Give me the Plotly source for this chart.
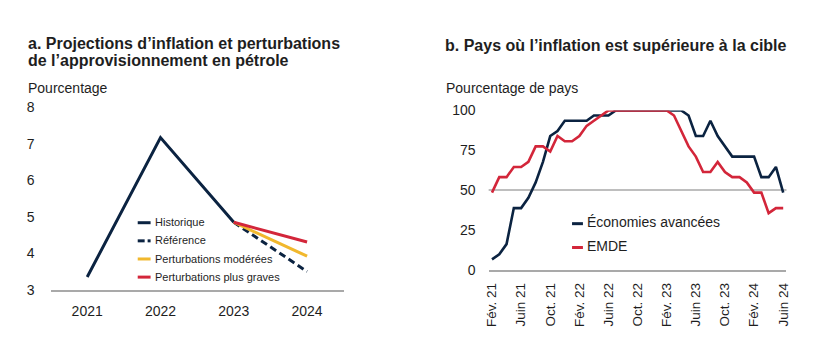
import plotly.graph_objects as go

# ---------------- Data ----------------
years = ["2021", "2022", "2023", "2024"]
historique = [3.35, 7.17, 4.85]          # 2021-2023
reference = [4.85, 3.50]                 # 2023-2024
perturb_moderees = [4.85, 3.92]          # 2023-2024
perturb_graves = [4.85, 4.31]            # 2023-2024

months = [
    "Fév. 21", "Mars 21", "Avr. 21", "Mai 21", "Juin 21", "Juil. 21", "Août 21", "Sept. 21",
    "Oct. 21", "Nov. 21", "Déc. 21", "Janv. 22", "Fév. 22", "Mars 22", "Avr. 22", "Mai 22",
    "Juin 22", "Juil. 22", "Août 22", "Sept. 22", "Oct. 22", "Nov. 22", "Déc. 22", "Janv. 23",
    "Fév. 23", "Mars 23", "Avr. 23", "Mai 23", "Juin 23", "Juil. 23", "Août 23", "Sept. 23",
    "Oct. 23", "Nov. 23", "Déc. 23", "Janv. 24", "Fév. 24", "Mars 24", "Avr. 24", "Mai 24",
    "Juin 24",
]
economies_avancees = [
    6.5, 9.7, 16.1, 38.7, 38.7, 45.2, 54.8, 67.7, 83.9, 87.1, 93.5, 93.5, 93.5, 93.5,
    96.8, 96.8, 96.8, 100, 100, 100, 100, 100, 100, 100, 100, 100, 100, 96.8, 83.9,
    83.9, 93.5, 83.9, 77.4, 71.0, 71.0, 71.0, 71.0, 58.1, 58.1, 64.5, 48.4,
]
emde = [
    48.4, 58.1, 58.1, 64.5, 64.5, 67.7, 77.4, 77.4, 74.2, 83.9, 80.6, 80.6, 83.9, 90.3,
    93.5, 96.8, 100, 100, 100, 100, 100, 100, 100, 100, 100, 96.8, 87.1, 77.4, 71.0,
    61.3, 61.3, 67.7, 61.3, 58.1, 58.1, 54.8, 48.4, 48.4, 35.5, 38.7, 38.7,
]
cible_ligne = 50
month_tick_step = 4

# ---------------- Style ----------------
NAVY = "#0b2341"
RED = "#d3263a"
YELLOW = "#f1b82d"
GRAY = "#a9a9a9"
TXT = "#1e1e1e"
FONT = "Liberation Sans, Arial, sans-serif"
W, H = 840, 350

def px_x(p):
    return p / W

def px_y(p):
    return 1 - p / H

fig = go.Figure()

# Panel a
xa = list(range(len(years)))
fig.add_trace(go.Scatter(x=xa[:3], y=historique, mode="lines", name="Historique",
                         line=dict(color=NAVY, width=3), xaxis="x", yaxis="y"))
fig.add_trace(go.Scatter(x=xa[2:], y=reference, mode="lines", name="Référence",
                         line=dict(color=NAVY, width=3, dash="7px,4px"), xaxis="x", yaxis="y"))
fig.add_trace(go.Scatter(x=xa[2:], y=perturb_moderees, mode="lines", name="Perturbations modérées",
                         line=dict(color=YELLOW, width=3), xaxis="x", yaxis="y"))
fig.add_trace(go.Scatter(x=xa[2:], y=perturb_graves, mode="lines", name="Perturbations plus graves",
                         line=dict(color=RED, width=3), xaxis="x", yaxis="y"))

# Panel b
xb = list(range(len(months)))
fig.add_trace(go.Scatter(x=xb, y=economies_avancees, mode="lines", name="Économies avancées",
                         line=dict(color=NAVY, width=2.6), xaxis="x2", yaxis="y2"))
fig.add_trace(go.Scatter(x=xb, y=emde, mode="lines", name="EMDE",
                         line=dict(color=RED, width=2.6), xaxis="x2", yaxis="y2"))

# target line at 50 %
fig.add_shape(type="line", xref="x2 domain", yref="y2", x0=0, x1=1, y0=cible_ligne, y1=cible_ligne,
              line=dict(color=GRAY, width=1.6), layer="below")

tickfont = dict(family=FONT, size=14, color=TXT)

fig.update_layout(
    width=W, height=H, autosize=False,
    margin=dict(l=0, r=0, t=0, b=0),
    paper_bgcolor="white", plot_bgcolor="white",
    showlegend=False,
    font=dict(family=FONT, color=TXT),
    xaxis=dict(domain=[px_x(47), px_x(343)], range=[-0.5, 3.5],
               tickvals=xa, ticktext=years, tickfont=tickfont,
               showgrid=False, zeroline=False, showline=True, linecolor=GRAY, linewidth=1.6,
               ticks="", ticklabelstandoff=8, anchor="y", fixedrange=True),
    yaxis=dict(domain=[px_y(295.3), px_y(104)], range=[3, 8], dtick=1,
               tickfont=tickfont, showgrid=False, zeroline=False, showline=False,
               ticks="", ticklabelstandoff=15, anchor="x", fixedrange=True),
    xaxis2=dict(domain=[px_x(489.3), px_x(790)], range=[-0.46, len(months) - 1 + 0.45],
                tickvals=xb[::month_tick_step], ticktext=months[::month_tick_step],
                tickangle=-90, tickfont=dict(family=FONT, size=13.5, color=TXT),
                showgrid=False, zeroline=False, showline=True, linecolor=GRAY, linewidth=1.6,
                ticks="", ticklabelstandoff=6, anchor="y2", fixedrange=True),
    yaxis2=dict(domain=[px_y(274.3), px_y(107.3)], range=[0, 100], tickvals=[0, 25, 50, 75, 100],
                tickfont=tickfont, showgrid=False, zeroline=False, showline=False,
                ticks="", ticklabelstandoff=12, anchor="x2", fixedrange=True),
)

def text(x, y, s, size, bold=False, xanchor="left"):
    fig.add_annotation(xref="paper", yref="paper", x=px_x(x), y=px_y(y),
                       text=f"<b>{s}</b>" if bold else s, showarrow=False,
                       xanchor=xanchor, yanchor="middle",
                       font=dict(family=FONT, size=size, color=TXT))

# Titles
text(22, 37.5, "a. Projections d’inflation et perturbations", 16, bold=True)
text(22, 55.3, "de l’approvisionnement en pétrole", 16, bold=True)
text(22, 83.5, "Pourcentage", 14)
text(443, 38.8, "b. Pays où l’inflation est supérieure à la cible", 16, bold=True)
text(444, 83.8, "Pourcentage de pays", 14)

# Legend panel a (manual, short samples)
leg_a = [("Historique", NAVY, None), ("Référence", NAVY, "dash"),
         ("Perturbations modérées", YELLOW, None), ("Perturbations plus graves", RED, None)]
for i, (name, col, dash) in enumerate(leg_a):
    yy = 225 + i * 19
    if dash:
        fig.add_shape(type="line", xref="paper", yref="paper", x0=px_x(135), x1=px_x(142),
                      y0=px_y(yy), y1=px_y(yy), line=dict(color=col, width=3))
        fig.add_shape(type="line", xref="paper", yref="paper", x0=px_x(145), x1=px_x(148),
                      y0=px_y(yy), y1=px_y(yy), line=dict(color=col, width=3))
    else:
        fig.add_shape(type="line", xref="paper", yref="paper", x0=px_x(135), x1=px_x(148),
                      y0=px_y(yy), y1=px_y(yy), line=dict(color=col, width=3))
    text(150, yy - 0.5, name, 11)

# Legend panel b
leg_b = [("Économies avancées", NAVY), ("EMDE", RED)]
for i, (name, col) in enumerate(leg_b):
    yy = 226 + i * 25
    fig.add_shape(type="line", xref="paper", yref="paper", x0=px_x(573.5), x1=px_x(584.5),
                  y0=px_y(yy), y1=px_y(yy), line=dict(color=col, width=3))
    text(587, yy - 2, name, 14)

fig.write_html("out.html")
